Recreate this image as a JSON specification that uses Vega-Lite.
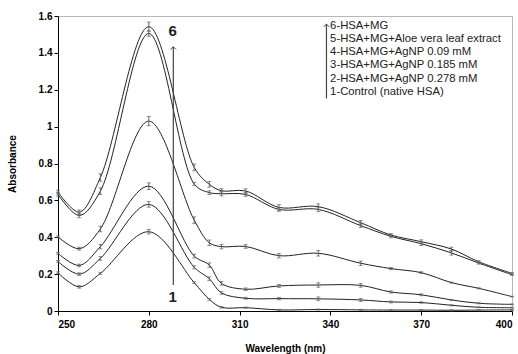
{
  "$schema": "https://vega.github.io/schema/vega-lite/v6.json",
  "width": 454,
  "height": 295,
  "autosize": {"type": "none"},
  "padding": {"left": 58, "top": 16, "right": 6, "bottom": 43},
  "config": {
    "view": {"stroke": "#b8b8b8", "strokeWidth": 1},
    "font": "Liberation Sans"
  },
  "datasets": {
    "spectra": [
      {"s":6,"w":250,"a":0.645,"e":0.01},{"s":6,"w":257,"a":0.536,"e":0.012},{"s":6,"w":264,"a":0.724,"e":0.02},{"s":6,"w":280,"a":1.542,"e":0.025},{"s":6,"w":295,"a":0.779,"e":0.018},{"s":6,"w":300,"a":0.687,"e":0.015},{"s":6,"w":304,"a":0.652,"e":0.012},{"s":6,"w":312,"a":0.651,"e":0.012},{"s":6,"w":323,"a":0.562,"e":0.015},{"s":6,"w":336,"a":0.566,"e":0.015},{"s":6,"w":350,"a":0.479,"e":0.012},{"s":6,"w":360,"a":0.412,"e":0.008},{"s":6,"w":370,"a":0.376,"e":0.01},{"s":6,"w":380,"a":0.336,"e":0.01},{"s":6,"w":389,"a":0.267,"e":0.006},{"s":6,"w":400,"a":0.204,"e":0.004},
      {"s":5,"w":250,"a":0.633,"e":0.01},{"s":5,"w":257,"a":0.518,"e":0.012},{"s":5,"w":264,"a":0.65,"e":0.018},{"s":5,"w":280,"a":1.505,"e":0.015},{"s":5,"w":295,"a":0.689,"e":0.008},{"s":5,"w":300,"a":0.642,"e":0.01},{"s":5,"w":304,"a":0.636,"e":0.012},{"s":5,"w":312,"a":0.632,"e":0.01},{"s":5,"w":323,"a":0.551,"e":0.01},{"s":5,"w":336,"a":0.551,"e":0.012},{"s":5,"w":350,"a":0.463,"e":0.01},{"s":5,"w":360,"a":0.405,"e":0.008},{"s":5,"w":370,"a":0.365,"e":0.01},{"s":5,"w":380,"a":0.315,"e":0.012},{"s":5,"w":389,"a":0.26,"e":0.006},{"s":5,"w":400,"a":0.197,"e":0.004},
      {"s":4,"w":250,"a":0.402,"e":0.005},{"s":4,"w":257,"a":0.338,"e":0.008},{"s":4,"w":264,"a":0.445,"e":0.015},{"s":4,"w":280,"a":1.03,"e":0.025},{"s":4,"w":295,"a":0.493,"e":0.018},{"s":4,"w":300,"a":0.37,"e":0.015},{"s":4,"w":304,"a":0.349,"e":0.012},{"s":4,"w":312,"a":0.35,"e":0.01},{"s":4,"w":323,"a":0.3,"e":0.012},{"s":4,"w":336,"a":0.313,"e":0.015},{"s":4,"w":350,"a":0.259,"e":0.012},{"s":4,"w":360,"a":0.23,"e":0.006},{"s":4,"w":370,"a":0.208,"e":0.005},{"s":4,"w":380,"a":0.154,"e":0.003},{"s":4,"w":389,"a":0.123,"e":0.003},{"s":4,"w":400,"a":0.078,"e":0.002},
      {"s":3,"w":250,"a":0.313,"e":0.005},{"s":3,"w":257,"a":0.247,"e":0.007},{"s":3,"w":264,"a":0.349,"e":0.012},{"s":3,"w":280,"a":0.677,"e":0.018},{"s":3,"w":295,"a":0.298,"e":0.01},{"s":3,"w":300,"a":0.249,"e":0.012},{"s":3,"w":304,"a":0.15,"e":0.01},{"s":3,"w":312,"a":0.118,"e":0.007},{"s":3,"w":323,"a":0.136,"e":0.008},{"s":3,"w":336,"a":0.141,"e":0.012},{"s":3,"w":350,"a":0.139,"e":0.01},{"s":3,"w":360,"a":0.103,"e":0.006},{"s":3,"w":370,"a":0.088,"e":0.005},{"s":3,"w":380,"a":0.06,"e":0.003},{"s":3,"w":389,"a":0.042,"e":0.003},{"s":3,"w":400,"a":0.036,"e":0.002},
      {"s":2,"w":250,"a":0.269,"e":0.005},{"s":2,"w":257,"a":0.2,"e":0.007},{"s":2,"w":264,"a":0.285,"e":0.01},{"s":2,"w":280,"a":0.578,"e":0.015},{"s":2,"w":295,"a":0.237,"e":0.008},{"s":2,"w":300,"a":0.175,"e":0.01},{"s":2,"w":304,"a":0.098,"e":0.007},{"s":2,"w":312,"a":0.069,"e":0.005},{"s":2,"w":323,"a":0.067,"e":0.006},{"s":2,"w":336,"a":0.066,"e":0.01},{"s":2,"w":350,"a":0.06,"e":0.008},{"s":2,"w":360,"a":0.049,"e":0.005},{"s":2,"w":370,"a":0.046,"e":0.004},{"s":2,"w":380,"a":0.031,"e":0.003},{"s":2,"w":389,"a":0.02,"e":0.002},{"s":2,"w":400,"a":0.018,"e":0.002},
      {"s":1,"w":250,"a":0.207,"e":0.005},{"s":1,"w":257,"a":0.131,"e":0.007},{"s":1,"w":264,"a":0.204,"e":0.005},{"s":1,"w":280,"a":0.43,"e":0.012},{"s":1,"w":295,"a":0.154,"e":0.005},{"s":1,"w":300,"a":0.063,"e":0.005},{"s":1,"w":304,"a":0.02,"e":0.004},{"s":1,"w":312,"a":0.018,"e":0.003},{"s":1,"w":323,"a":0.006,"e":0.003},{"s":1,"w":336,"a":0.008,"e":0.003},{"s":1,"w":350,"a":0.006,"e":0.003},{"s":1,"w":360,"a":0.005,"e":0.003},{"s":1,"w":370,"a":0.005,"e":0.003},{"s":1,"w":380,"a":0.004,"e":0.003},{"s":1,"w":389,"a":0.005,"e":0.003},{"s":1,"w":400,"a":0.006,"e":0.003}
    ],
    "arrows": [
      {"w": 288.1, "a": 0.141, "a2": 1.433},
      {"w": 338.7, "a": 1.153, "a2": 1.556}
    ],
    "heads": [
      {"w": 288.1, "a": 1.433},
      {"w": 338.7, "a": 1.556}
    ],
    "nums": [
      {"w": 287.9, "a": 1.518, "t": "6"},
      {"w": 287.9, "a": 0.074, "t": "1"}
    ],
    "legend": [
      {"w": 339.9, "a": 1.545, "t": "6-HSA+MG"},
      {"w": 339.9, "a": 1.474, "t": "5-HSA+MG+Aloe vera leaf extract"},
      {"w": 339.9, "a": 1.403, "t": "4-HSA+MG+AgNP 0.09 mM"},
      {"w": 339.9, "a": 1.332, "t": "3-HSA+MG+AgNP 0.185 mM"},
      {"w": 339.9, "a": 1.261, "t": "2-HSA+MG+AgNP 0.278 mM"},
      {"w": 339.9, "a": 1.19, "t": "1-Control (native HSA)"}
    ]
  },
  "encoding": {
    "x": {
      "field": "w", "type": "quantitative",
      "scale": {"domain": [250, 400], "nice": false, "zero": false},
      "axis": {
        "title": "Wavelength (nm)", "values": [250, 280, 310, 340, 370, 400],
        "grid": false, "domainColor": "#000", "tickColor": "#000", "tickSize": 4,
        "labelFontSize": 10, "labelFontWeight": "bold", "labelColor": "#000",
        "labelPadding": 4, "titleFontSize": 10, "titleFontWeight": "bold",
        "titleColor": "#000", "titlePadding": 14
      }
    },
    "y": {
      "field": "a", "type": "quantitative",
      "scale": {"domain": [0, 1.6], "nice": false},
      "axis": {
        "title": "Absorbance", "values": [0, 0.2, 0.4, 0.6, 0.8, 1, 1.2, 1.4, 1.6],
        "format": "~g", "grid": false, "domainColor": "#000", "tickColor": "#000",
        "tickSize": 4, "labelFontSize": 10, "labelFontWeight": "bold",
        "labelColor": "#000", "labelPadding": 2, "titleFontSize": 10,
        "titleFontWeight": "bold", "titleColor": "#000", "titlePadding": 21
      }
    }
  },
  "layer": [
    {
      "data": {"name": "spectra"},
      "mark": {"type": "line", "interpolate": "catmull-rom", "color": "#222", "strokeWidth": 1},
      "encoding": {"detail": {"field": "s"}}
    },
    {
      "data": {"name": "spectra"},
      "mark": {"type": "errorbar", "ticks": {"size": 4}, "color": "#666", "thickness": 1},
      "encoding": {"yError": {"field": "e"}, "detail": {"field": "s"}}
    },
    {
      "data": {"name": "arrows"},
      "mark": {"type": "rule", "color": "#444", "strokeWidth": 1.2},
      "encoding": {"y2": {"field": "a2"}}
    },
    {
      "data": {"name": "heads"},
      "mark": {"type": "point", "shape": "M-1,1L0,0L1,1", "filled": false, "color": "#444", "size": 30, "strokeWidth": 1, "opacity": 1}
    },
    {
      "data": {"name": "nums"},
      "mark": {"type": "text", "fontSize": 15, "fontWeight": "bold", "align": "center", "baseline": "middle", "color": "#222"},
      "encoding": {"text": {"field": "t"}}
    },
    {
      "data": {"name": "legend"},
      "mark": {"type": "text", "fontSize": 11.3, "align": "left", "baseline": "middle", "color": "#222"},
      "encoding": {"text": {"field": "t"}}
    }
  ]
}
